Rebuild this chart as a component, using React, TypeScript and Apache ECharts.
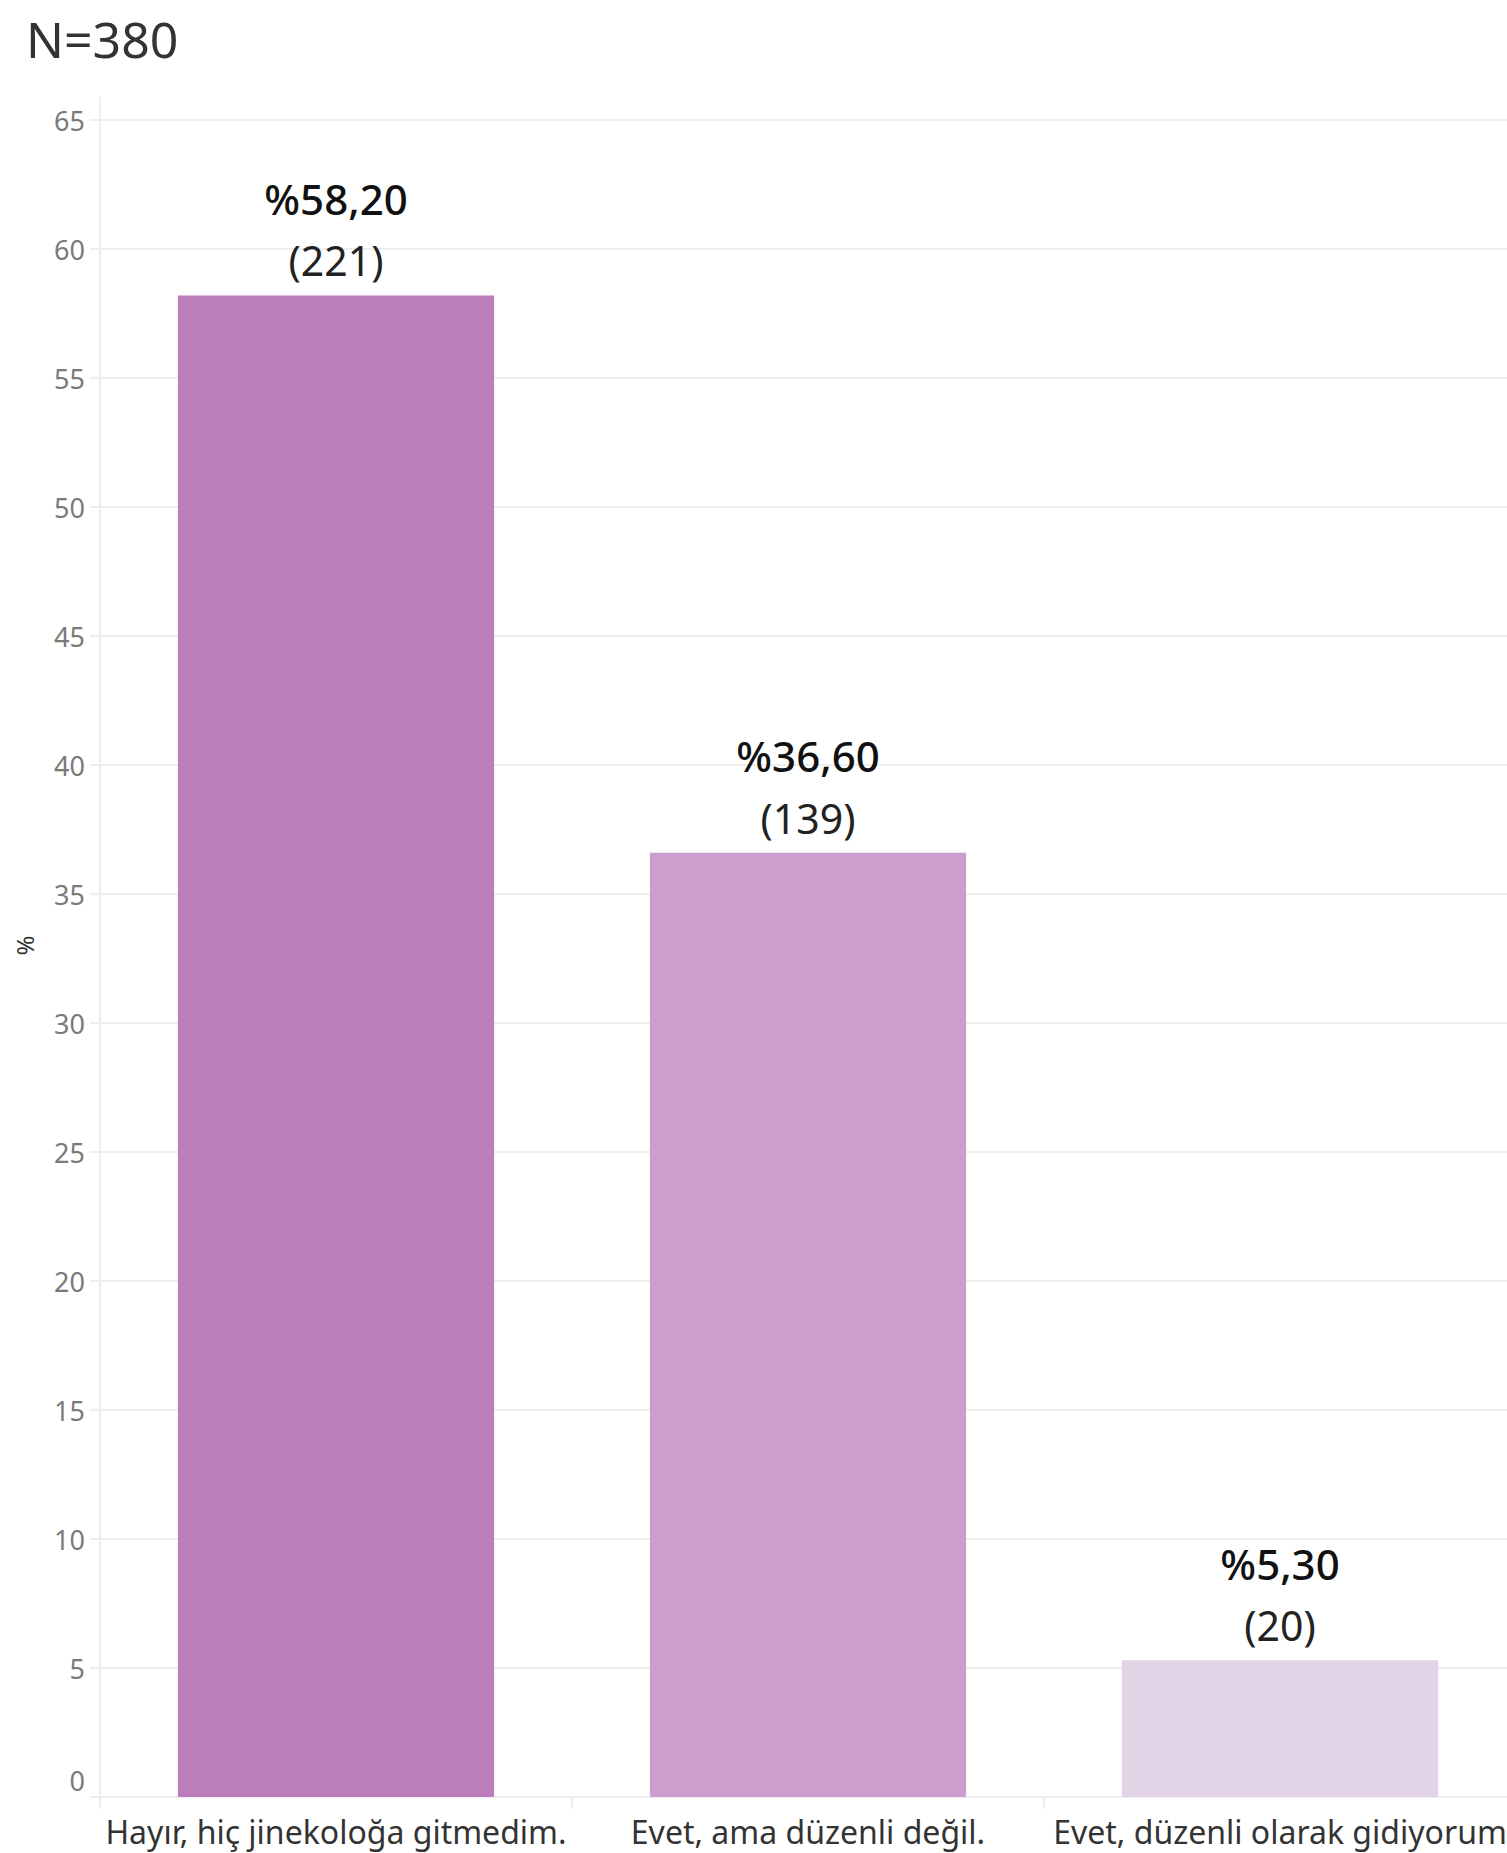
import React, { useEffect, useRef } from "react";
import * as echarts from "echarts";

const categories = [
  "Hayır, hiç jinekoloğa gitmedim.",
  "Evet, ama düzenli değil.",
  "Evet, düzenli olarak gidiyorum",
];
const percentValues = [58.2, 36.6, 5.3];
const percentLabels = ["%58,20", "%36,60", "%5,30"];
const counts = [221, 139, 20];
const barColors = ["#bc7dbc", "#ce9ccd", "#e3d3e6"];
const title = "N=380";
const yAxisName = "%";

const FONT = "'Noto Sans', sans-serif";
const GRID = "#eeeeee";

export default function App() {
  const ref = useRef<HTMLDivElement>(null);
  useEffect(() => {
    if (!ref.current) return;
    const chart = echarts.init(ref.current, undefined, { renderer: "svg" });
    chart.setOption({
      animation: false,
      backgroundColor: "#ffffff",
      textStyle: { fontFamily: FONT },
      title: {
        text: title,
        left: 21,
        top: 9,
        textStyle: { fontFamily: FONT, fontSize: 50, fontWeight: "normal", color: "#333333" },
      },
      grid: { left: 100, right: 0, top: 120, bottom: 56, containLabel: false },
      xAxis: {
        type: "category",
        data: categories,
        axisLine: { show: true, lineStyle: { color: GRID, width: 2 } },
        axisTick: { show: true, length: 12, lineStyle: { color: GRID, width: 2 } },
        axisLabel: { interval: 0, fontFamily: FONT, fontSize: 32, color: "#333333", margin: 18 },
      },
      yAxis: {
        type: "value",
        min: 0,
        max: 65,
        interval: 5,
        name: yAxisName,
        nameLocation: "middle",
        nameGap: 64,
        nameRotate: 90,
        nameTextStyle: { fontFamily: FONT, fontSize: 24, color: "#333333", padding: [0, 0, 0, 26] },
        axisLine: { show: true, lineStyle: { color: GRID, width: 2 } },
        axisTick: { show: true, length: 10, lineStyle: { color: GRID, width: 2 } },
        axisLabel: {
          fontFamily: FONT,
          fontSize: 27,
          color: "#7a7a7a",
          margin: 15,
          formatter: (v: number) => (v === 0 ? "{z|0}" : String(v)),
          rich: {
            z: { fontFamily: FONT, fontSize: 27, color: "#7a7a7a", padding: [0, 0, 34, 0] },
          },
        },
        splitLine: { show: true, lineStyle: { color: GRID, width: 2 } },
      },
      graphic: [
        {
          type: "line",
          shape: { x1: 100, y1: 97, x2: 100, y2: 120 },
          style: { stroke: GRID, lineWidth: 2 },
        },
      ],
      series: [
        {
          type: "bar",
          barCategoryGap: "33%",
          data: percentValues.map((v, i) => ({
            value: v,
            itemStyle: { color: barColors[i] },
            label: {
              formatter: `{a|${percentLabels[i]}}\n{b|(${counts[i]})}`,
            },
          })),
          label: {
            show: true,
            position: "top",
            distance: 4,
            rich: {
              a: { fontFamily: FONT, fontSize: 42, fontWeight: 500, color: "#111111", lineHeight: 62 },
              b: { fontFamily: FONT, fontSize: 41, fontWeight: "normal", color: "#222222", lineHeight: 62 },
            },
          },
        },
      ],
    });
    return () => chart.dispose();
  }, []);
  return (
    <div
      style={{ position: "absolute", left: 0, top: 0, width: 1507, height: 1853, overflow: "hidden" }}
    >
      <div ref={ref} style={{ width: 1516, height: 1853 }} />
    </div>
  );
}
